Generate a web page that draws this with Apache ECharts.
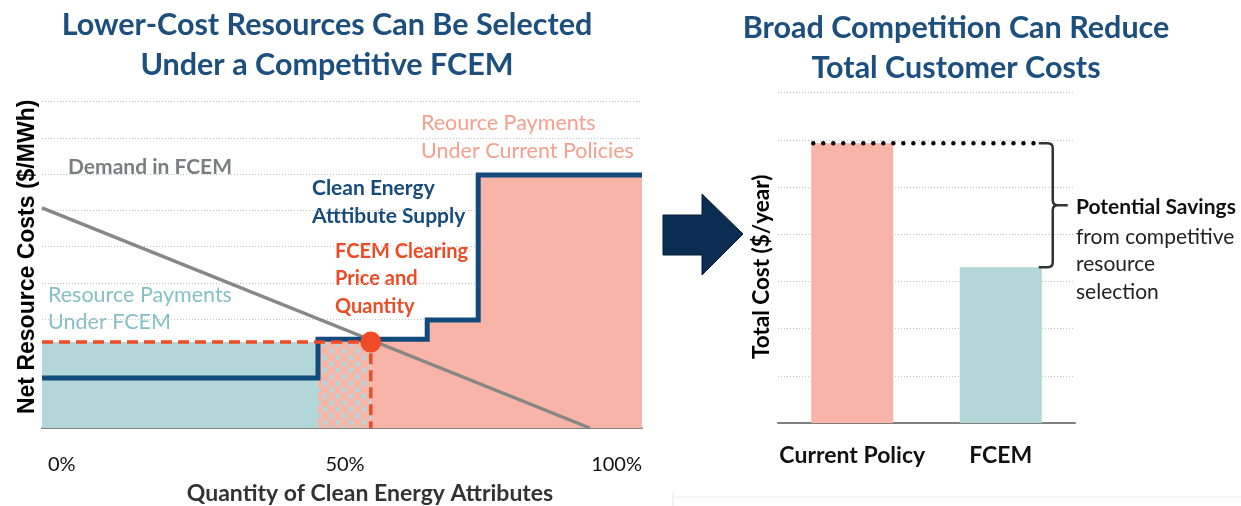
<!DOCTYPE html>
<html><head><meta charset="utf-8">
<script src="https://cdn.jsdelivr.net/npm/echarts@6/dist/echarts.min.js"></script>
<style>html,body{margin:0;padding:0;background:#fff}#c{width:1241px;height:506px}</style>
</head><body><div id="c"></div>
<script>
// ---- data (left panel: supply / demand curve) ----
const xTickValues = [0, 50, 100];
const supplyX = [0, 46, 46, 64.2, 64.2, 72.7, 72.7, 100];
const supplyY = [1.38, 1.38, 2.45, 2.45, 2.98, 2.98, 6.98, 6.98];
const demandX = [0, 91.3];
const demandY = [6.07, 0];
const clearingQty = 54.8;
const clearingPrice = 2.37;
// ---- data (right panel: total cost bars) ----
const costCategories = ['Current Policy', 'FCEM'];
const costValues = [5.93, 3.3];

const FONT = 'Lato, "Open Sans", sans-serif';
const TEAL = '#b3d6d9', PINK = '#f8b4a7', NAVY = '#114a7c', RED = '#ef4b26';

const supplyPts = supplyX.map((x, i) => [x, supplyY[i]]);
const demandPts = demandX.map((x, i) => [x, demandY[i]]);
const stepStart = supplyX[1];
let levelAtQ = supplyY[0];
supplyPts.forEach(p => { if (p[0] <= clearingQty) levelAtQ = p[1]; });
const pinkPts = [[clearingQty, levelAtQ]].concat(supplyPts.filter(p => p[0] > clearingQty));

// dotted pattern tile
const T = 13;
const tile = document.createElement('canvas');
tile.width = T; tile.height = T;
const g = tile.getContext('2d');
g.fillStyle = TEAL; g.fillRect(0, 0, T, T);
g.fillStyle = PINK;
[[0,0],[T,0],[0,T],[T,T],[T/2,T/2]].forEach(([a,b]) => { g.beginPath(); g.arc(a, b, 4.4, 0, Math.PI*2); g.fill(); });

const chart = echarts.init(document.getElementById('c'), null, {renderer: 'canvas'});
const splitDotted = {show: true, lineStyle: {color: '#c4c4c4', type: [1, 2], width: 1}};

chart.setOption({
  animation: false,
  title: [
    {text: 'Lower-Cost Resources Can Be Selected\nUnder a Competitive FCEM', left: 322, top: 0, textAlign: 'center',
     textStyle: {fontFamily: FONT, fontSize: 30.5, fontWeight: 'bold', color: '#1c4e7e', lineHeight: 40}},
    {text: 'Broad Competition Can Reduce\nTotal Customer Costs', left: 951, top: 3, textAlign: 'center',
     textStyle: {fontFamily: FONT, fontSize: 30.5, fontWeight: 'bold', color: '#1c4e7e', lineHeight: 40}}
  ],
  grid: [
    {left: 42, top: 101.7, width: 600, height: 326.3, outerBoundsMode: 'none', containLabel: false},
    {left: 778, top: 92.7, width: 297, height: 330.3, outerBoundsMode: 'none', containLabel: false}
  ],
  xAxis: [
    {type: 'value', gridIndex: 0, min: 0, max: 100, interval: 50,
     axisLine: {show: true, onZero: false, lineStyle: {color: '#7f7f7f', width: 2}},
     axisTick: {show: false}, splitLine: {show: false},
     axisLabel: {formatter: '{value}%', margin: 27, fontFamily: FONT, fontSize: 20, color: '#111',
                 alignMinLabel: 'left', alignMaxLabel: 'right', padding: [0, 0, 0, 6],
                 customValues: xTickValues},
     name: 'Quantity of Clean Energy Attributes', nameLocation: 'middle', nameGap: 54,
     nameTextStyle: {fontFamily: FONT, fontSize: 23, fontWeight: 'bold', color: '#333', padding: [0, 0, 0, 56]}},
    {type: 'category', gridIndex: 1, data: costCategories,
     axisLine: {show: true, lineStyle: {color: '#7f7f7f', width: 2}},
     axisTick: {show: false},
     axisLabel: {interval: 0, hideOverlap: false, margin: 21, fontFamily: FONT, fontSize: 23, fontWeight: 'bold', color: '#111'}}
  ],
  yAxis: [
    {type: 'value', gridIndex: 0, min: 0, max: 9, interval: 1,
     axisLine: {show: false}, axisTick: {show: false}, axisLabel: {show: false},
     splitLine: splitDotted,
     name: 'Net Resource Costs ($/MWh)', nameLocation: 'middle', nameRotate: 90, nameGap: 3,
     nameTextStyle: {fontFamily: '"Liberation Sans", Arial, sans-serif', fontSize: 23, fontWeight: 'bold', color: '#000', padding: [0, 0, 0, 16]}},
    {type: 'value', gridIndex: 1, min: 0, max: 7, interval: 1,
     axisLine: {show: false}, axisTick: {show: false}, axisLabel: {show: false},
     splitLine: splitDotted,
     name: 'Total Cost ($/year)', nameLocation: 'middle', nameRotate: 90, nameGap: 5,
     nameTextStyle: {fontFamily: FONT, fontSize: 22.5, fontWeight: 'bold', color: '#000', padding: [0, 18, 0, 0]}}
  ],
  series: [
    {type: 'line', xAxisIndex: 0, yAxisIndex: 0, data: [[0, clearingPrice], [stepStart, clearingPrice]],
     symbol: 'none', lineStyle: {width: 0}, areaStyle: {color: TEAL, opacity: 1}, z: 1, silent: true},
    {type: 'line', xAxisIndex: 0, yAxisIndex: 0, data: [[stepStart, clearingPrice], [clearingQty, clearingPrice]],
     symbol: 'none', lineStyle: {width: 0}, areaStyle: {color: {image: tile, repetition: 'repeat'}, opacity: 1}, z: 1, silent: true},
    {type: 'line', xAxisIndex: 0, yAxisIndex: 0, data: pinkPts,
     symbol: 'none', lineStyle: {width: 0}, areaStyle: {color: PINK, opacity: 1}, z: 1, silent: true},
    {type: 'line', name: 'Demand in FCEM', xAxisIndex: 0, yAxisIndex: 0, data: demandPts,
     symbol: 'none', lineStyle: {color: '#878787', width: 3.5}, z: 3},
    {type: 'line', name: 'Clean Energy Attribute Supply', xAxisIndex: 0, yAxisIndex: 0, data: supplyPts,
     symbol: 'none', lineStyle: {color: NAVY, width: 5, join: 'miter'}, z: 4},
    {type: 'line', xAxisIndex: 0, yAxisIndex: 0, data: [[0, clearingPrice], [clearingQty, clearingPrice], [clearingQty, 0]],
     symbol: 'none', lineStyle: {color: RED, width: 3.5, type: [11, 6]}, z: 5},
    {type: 'scatter', xAxisIndex: 0, yAxisIndex: 0, data: [[clearingQty, clearingPrice]],
     symbol: 'circle', symbolSize: 21, itemStyle: {color: RED, opacity: 1}, z: 6},
    {type: 'bar', xAxisIndex: 1, yAxisIndex: 1, barWidth: 82,
     data: costValues.map((v, i) => ({value: v, itemStyle: {color: i === 0 ? PINK : TEAL}})), z: 2},
    {type: 'custom', xAxisIndex: 1, yAxisIndex: 1, clip: false, z: 5,
     data: [[0, costValues[0], costValues[1]]],
     encode: {x: 0, y: 1},
     renderItem: function (params, api) {
       const top = api.coord([0, api.value(1)]);
       const bot = api.coord([1, api.value(2)]);
       const x0 = top[0] - 41, x1 = bot[0] + 38, y0 = top[1], y1 = bot[1];
       const xm = x1 + 14, ym = (y0 + y1) / 2;
       const d = `M${x1} ${y0} L${xm-5} ${y0} Q${xm} ${y0} ${xm} ${y0+5} L${xm} ${ym-5} Q${xm} ${ym} ${xm+5} ${ym} L${xm+15} ${ym} M${xm+5} ${ym} Q${xm} ${ym} ${xm} ${ym+5} L${xm} ${y1-5} Q${xm} ${y1} ${xm-5} ${y1} L${x1} ${y1}`;
       return {type: 'group', children: [
         {type: 'line', shape: {x1: x0 + 2, y1: y0, x2: x1, y2: y0},
          style: {stroke: '#000', lineWidth: 4.5, lineDash: [0.01, 10], lineCap: 'round'}},
         {type: 'path', shape: {pathData: d}, style: {stroke: '#333', lineWidth: 2.5, fill: null}}
       ]};
     }}
  ],
  graphic: [
    {type: 'text', left: 68, top: 157, style: {text: 'Demand in FCEM', font: 'bold 21px ' + FONT, fill: '#7a7e82'}},
    {type: 'text', left: 312, top: 174, style: {text: 'Clean Energy\nAtttibute Supply', font: 'bold 21px ' + FONT, fill: '#174a7c', lineHeight: 28}},
    {type: 'text', left: 335, top: 238, style: {text: 'FCEM Clearing\nPrice and\nQuantity', font: 'bold 20px ' + FONT, fill: '#ee4b24', lineHeight: 27.3}},
    {type: 'text', left: 421, top: 109, style: {text: 'Reource Payments\nUnder Current Policies', font: '21.5px ' + FONT, fill: '#f4a08c', lineHeight: 28}},
    {type: 'text', left: 48, top: 282, style: {text: 'Resource Payments\nUnder FCEM', font: '21.5px ' + FONT, fill: '#86c0c6', lineHeight: 27}},
    {type: 'text', left: 1076, top: 197, style: {text: 'Potential Savings', font: 'bold 21px ' + FONT, fill: '#111'}},
    {type: 'text', left: 1076, top: 223, style: {text: 'from competitive\nresource\nselection', font: '21px ' + FONT, fill: '#222', lineHeight: 27.5}},
    {type: 'polygon', shape: {points: [[663,215],[702,215],[702,194],[743,234],[702,275],[702,255],[663,255]]},
     style: {fill: '#0b2d52', stroke: '#051d38', lineWidth: 1}},
    {type: 'line', shape: {x1: 673, y1: 497, x2: 1241, y2: 497}, style: {stroke: '#ececec', lineWidth: 1}},
    {type: 'line', shape: {x1: 673, y1: 492, x2: 673, y2: 506}, style: {stroke: '#e6e6e6', lineWidth: 1}}
  ]
});
</script></body></html>
